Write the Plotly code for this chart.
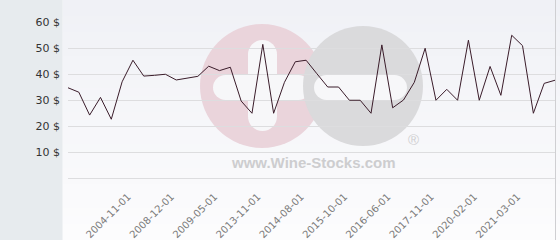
import plotly.graph_objects as go

# ---- data ----
values = [34.7, 33.0, 24.2, 31.0, 22.6, 37.0, 45.3, 39.2, 39.5, 39.9,
          37.7, 38.3, 39.1, 43.0, 41.3, 42.6, 29.6, 24.9, 51.4, 24.9,
          36.8, 44.7, 45.3, 40.1, 35.0, 35.0, 29.9, 29.9, 24.9, 51.2,
          27.0, 30.0, 36.8, 49.9, 29.9, 34.1, 29.9, 53.0, 29.9, 42.9,
          31.8, 54.9, 50.9, 24.9, 36.4, 37.6]
x_index = list(range(len(values)))
tick_positions = [6, 10, 14, 18, 22, 26, 30, 34, 38, 42]
tick_labels = ["2004-11-01", "2008-12-01", "2009-05-01", "2013-11-01", "2014-08-01",
               "2015-10-01", "2016-06-01", "2017-11-01", "2020-02-01", "2021-03-01"]
y_ticks = [10, 20, 30, 40, 50, 60]
y_tick_labels = ["10 $", "20 $", "30 $", "40 $", "50 $", "60 $"]

# ---- layout geometry (pixels) ----
WIDTH, HEIGHT = 560, 240
L, R, T, B = 68, 555, 22, 178
PW, PH = R - L, B - T


def px(x):
    return (x - L) / PW


def py(y):
    return (B - y) / PH


shapes = []
# background gradient
n = 30
top_c = (240, 241, 246)
bot_c = (252, 252, 253)
for i in range(n):
    f = i / (n - 1)
    c = tuple(round(top_c[k] + (bot_c[k] - top_c[k]) * f) for k in range(3))
    y0 = HEIGHT * i / n
    y1 = HEIGHT * (i + 1) / n + 0.5
    shapes.append(dict(type="rect", xref="paper", yref="paper", layer="below",
                       x0=px(62.5), x1=px(WIDTH), y0=py(y1), y1=py(y0),
                       line=dict(width=0), fillcolor="rgb(%d,%d,%d)" % c))
# left panel
shapes.append(dict(type="rect", xref="paper", yref="paper", layer="below",
                   x0=px(0), x1=px(62.5), y0=py(HEIGHT), y1=py(0),
                   line=dict(width=0), fillcolor="#e7ebee"))
# right border
shapes.append(dict(type="line", xref="paper", yref="paper", layer="below",
                   x0=px(555.5), x1=px(555.5), y0=py(HEIGHT), y1=py(0),
                   line=dict(width=1, color="#cfcfd2")))


def circle(cx, cy, r, color):
    return dict(type="circle", xref="paper", yref="paper", layer="below",
                x0=px(cx - r), x1=px(cx + r), y0=py(cy + r), y1=py(cy - r),
                line=dict(width=0), fillcolor=color)


def hbar(x0, x1, y0, y1, color):
    r = (y1 - y0) / 2
    cy = (y0 + y1) / 2
    return [dict(type="rect", xref="paper", yref="paper", layer="below",
                 x0=px(x0 + r), x1=px(x1 - r), y0=py(y1), y1=py(y0),
                 line=dict(width=0), fillcolor=color),
            circle(x0 + r, cy, r, color), circle(x1 - r, cy, r, color)]


def vbar(x0, x1, y0, y1, color):
    r = (x1 - x0) / 2
    cx = (x0 + x1) / 2
    return [dict(type="rect", xref="paper", yref="paper", layer="below",
                 x0=px(x0), x1=px(x1), y0=py(y1 - r), y1=py(y0 + r),
                 line=dict(width=0), fillcolor=color),
            circle(cx, y0 + r, r, color), circle(cx, y1 - r, r, color)]


wm_white = "#f7f7f9"
shapes.append(circle(262, 86, 62, "#ead4db"))
shapes += hbar(213, 311, 75, 100, wm_white)
shapes += vbar(248, 277, 40, 131, wm_white)
shapes.append(circle(363, 86, 60, "#dadadc"))
shapes += hbar(314, 407, 75, 100, wm_white)

annotations = [
    dict(xref="paper", yref="paper", x=px(313), y=py(162), text="<b>www.Wine-Stocks.com</b>",
         showarrow=False, font=dict(family="Liberation Sans", size=15, color="#cdcdcf"),
         xanchor="center", yanchor="middle"),
    dict(xref="paper", yref="paper", x=px(413), y=py(139), text="®",
         showarrow=False, font=dict(family="Liberation Sans", size=15, color="#cfcfd1"),
         xanchor="center", yanchor="middle"),
]

fig = go.Figure()
fig.add_trace(go.Scatter(x=x_index, y=values, mode="lines",
                         line=dict(color="#3a1c2a", width=1), hoverinfo="skip"))

fig.update_layout(
    width=WIDTH, height=HEIGHT,
    margin=dict(l=L, r=WIDTH - R, t=T, b=HEIGHT - B, pad=0, autoexpand=False),
    paper_bgcolor="#fbfbfc", plot_bgcolor="rgba(0,0,0,0)",
    showlegend=False, shapes=shapes, annotations=annotations,
    xaxis=dict(range=[0, len(values) - 1], tickmode="array", tickvals=tick_positions,
               ticktext=tick_labels, tickangle=-45, showgrid=False, zeroline=False,
               showline=True, linecolor="#dddddf", linewidth=1,
               ticks="", ticklabelstandoff=8, ticklabelshift=-5, automargin=False,
               tickfont=dict(family="DejaVu Sans", size=10, color="#7a7a7a")),
    yaxis=dict(range=[0, 60], tickmode="array", tickvals=y_ticks, ticktext=y_tick_labels,
               showgrid=True, gridcolor="#dddddf", gridwidth=1, zeroline=False,
               showline=False, ticks="", ticklabelstandoff=7, automargin=False,
               tickfont=dict(family="DejaVu Sans", size=11, color="#333333")),
)

fig.write_html("out.html")
